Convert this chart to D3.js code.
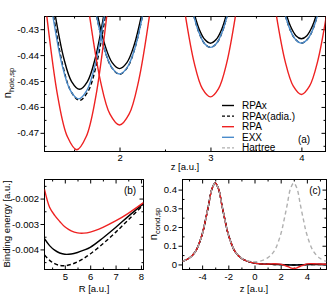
<!DOCTYPE html>
<html>
<head>
<meta charset="utf-8">
<script src="https://cdn.jsdelivr.net/npm/d3@7"></script>
<style>
body { margin: 0; background: #fff; }
svg { display: block; font-family: "Liberation Sans", Arial, sans-serif; }
</style>
</head>
<body>
<svg id="chart" width="328" height="303"></svg>
<script>
// ---- panel (a): n_hole,sp vs z, one array of [z, n] points per well ----
var rpax_a = [
  [[1.271,-0.420],[1.387,-0.4412],[1.473,-0.4502],[1.56,-0.4532],[1.647,-0.4502],[1.733,-0.4412],[1.849,-0.420]],
  [[1.731,-0.420],[1.839,-0.4361],[1.919,-0.4429],[2.0,-0.4452],[2.081,-0.4429],[2.161,-0.4361],[2.269,-0.420]],
  [[2.792,-0.420],[2.875,-0.4299],[2.938,-0.4340],[3.0,-0.4354],[3.062,-0.4340],[3.125,-0.4299],[3.208,-0.420]],
  [[3.799,-0.420],[3.879,-0.4288],[3.94,-0.4325],[4.0,-0.4337],[4.06,-0.4325],[4.121,-0.4288],[4.201,-0.420]]
];
var adia_a = [
  [[1.253,-0.420],[1.376,-0.4440],[1.468,-0.4541],[1.56,-0.4575],[1.652,-0.4541],[1.744,-0.4440],[1.867,-0.420]],
  [[1.72,-0.420],[1.832,-0.4375],[1.916,-0.4449],[2.0,-0.4474],[2.084,-0.4449],[2.168,-0.4375],[2.28,-0.420]],
  [[2.781,-0.420],[2.869,-0.4309],[2.934,-0.4355],[3.0,-0.4370],[3.066,-0.4355],[3.131,-0.4309],[3.219,-0.420]],
  [[3.787,-0.420],[3.872,-0.4299],[3.936,-0.4340],[4.0,-0.4354],[4.064,-0.4340],[4.128,-0.4299],[4.213,-0.420]]
];
var rpa_a = [
  [[1.184,-0.420],[1.322,-0.4562],[1.426,-0.4714],[1.53,-0.4765],[1.634,-0.4714],[1.738,-0.4562],[1.876,-0.420]],
  [[1.651,-0.420],[1.791,-0.4501],[1.895,-0.4628],[2.0,-0.4670],[2.105,-0.4628],[2.209,-0.4501],[2.349,-0.420]],
  [[2.703,-0.420],[2.822,-0.4431],[2.911,-0.4529],[3.0,-0.4561],[3.089,-0.4529],[3.178,-0.4431],[3.297,-0.420]],
  [[3.703,-0.420],[3.822,-0.4425],[3.911,-0.4520],[4.0,-0.4552],[4.089,-0.4520],[4.178,-0.4425],[4.297,-0.420]]
];
var exx_a = [
  [[1.245,-0.420],[1.367,-0.4436],[1.459,-0.4536],[1.55,-0.4569],[1.641,-0.4536],[1.733,-0.4436],[1.855,-0.420]],
  [[1.72,-0.420],[1.832,-0.4375],[1.916,-0.4448],[2.0,-0.4473],[2.084,-0.4448],[2.168,-0.4375],[2.28,-0.420]],
  [[2.781,-0.420],[2.869,-0.4309],[2.934,-0.4355],[3.0,-0.4370],[3.066,-0.4355],[3.131,-0.4309],[3.219,-0.420]],
  [[3.787,-0.420],[3.872,-0.4299],[3.936,-0.4340],[4.0,-0.4354],[4.064,-0.4340],[4.128,-0.4299],[4.213,-0.420]]
];

// ---- panel (b): binding energy vs R ----
var R_b = [4.2, 4.4, 4.6, 4.8, 5.0, 5.25, 5.5, 5.75, 6.0, 6.5, 7.0, 7.5, 8.1];
var rpax_b = [-0.00358,-0.00385,-0.00403,-0.00414,-0.00419,-0.00418,-0.00412,-0.00403,-0.00392,-0.00355,-0.00314,-0.00270,-0.00220];
var adia_b = [-0.00422,-0.00443,-0.00456,-0.00463,-0.00464,-0.00459,-0.00449,-0.00435,-0.00418,-0.00378,-0.00333,-0.00284,-0.00224];
var rpa_b  = [-0.00164,-0.00234,-0.00266,-0.00290,-0.00311,-0.00327,-0.00335,-0.00336,-0.00332,-0.00313,-0.00288,-0.00258,-0.00216];

// ---- panel (c): n_cond,sp vs z ----
var z_c = [-5.5,-5,-4.5,-4,-3.75,-3.5,-3.25,-3,-2.75,-2.5,-2.25,-2,-1.5,-1,-0.5,0,0.5,1,1.5,2,2.25,2.5,2.75,3,3.25,3.5,3.75,4,4.5,5,5.5];
var hartree_c = [0.016,0.033,0.07,0.16,0.235,0.32,0.405,0.435,0.405,0.32,0.235,0.16,0.071,0.035,0.019,0.014,0.019,0.035,0.071,0.16,0.235,0.32,0.405,0.435,0.405,0.32,0.235,0.16,0.07,0.033,0.016];
var rpax_c = [0.016,0.033,0.07,0.16,0.235,0.32,0.405,0.435,0.405,0.32,0.235,0.16,0.07,0.033,0.016,0.007,0.003,0.001,0,-0.001,-0.002,-0.002,-0.003,-0.003,-0.003,-0.002,-0.002,-0.001,0,0,0];
var adia_c = [0.016,0.033,0.07,0.16,0.235,0.32,0.405,0.435,0.405,0.32,0.235,0.16,0.07,0.033,0.016,0.007,0.003,0.001,0,-0.001,-0.001,-0.002,-0.002,-0.003,-0.002,-0.002,-0.001,-0.001,0,0,0];
var exx_c  = [0.016,0.033,0.07,0.16,0.235,0.32,0.405,0.435,0.405,0.32,0.235,0.16,0.07,0.033,0.016,0.007,0.003,0.002,0.001,0,-0.001,-0.001,-0.002,-0.002,-0.002,-0.001,-0.001,0,0.001,0.001,0];
var rpa_c  = [0.016,0.033,0.07,0.16,0.235,0.32,0.405,0.435,0.405,0.32,0.235,0.16,0.07,0.033,0.016,0.007,0.003,0.002,0.004,0.002,-0.004,-0.010,-0.018,-0.022,-0.018,-0.010,-0.004,0.003,0.004,0.002,0.001];

// ticks
var aXTicks = [2, 3, 4], aXMinor = [1.5, 2.5, 3.5];
var aYTicks = [-0.47, -0.46, -0.45, -0.44, -0.43], aYMinor = [-0.475, -0.465, -0.455, -0.445, -0.435];
var bXTicks = [5, 6, 7, 8], bXMinor = [4.5, 5.5, 6.5, 7.5];
var bYTicks = [-0.004, -0.003, -0.002], bYMinor = [-0.0045, -0.0035, -0.0025, -0.0015];
var cXTicks = [-4, -2, 0, 2, 4], cXMinor = [-5, -3, -1, 1, 3, 5];
var cYTicks = [0, 0.1, 0.2, 0.3, 0.4], cYMinor = [0.05, 0.15, 0.25, 0.35];

var legendNames = ["RPAx", "RPAx(adia.)", "RPA", "EXX", "Hartree"];

var BLACK = "#000", RED = "#ee2222", BLUE = "#4a8bcb", GRAY = "#b0b0b0";
var styles = {
  rpax: {color: BLACK, dash: null},
  adia: {color: BLACK, dash: "4,2.5"},
  rpa: {color: RED, dash: null},
  exx: {color: BLUE, dash: null},
  hartree: {color: GRAY, dash: "4,3"}
};
var legendKeys = ["rpax", "adia", "rpa", "exx", "hartree"];

var svg = d3.select("#chart");
svg.append("rect").attr("width", 328).attr("height", 303).attr("fill", "white");

var FS = 9.5;

// scales
var xa = d3.scaleLinear().domain([1.175, 4.265]).range([44.5, 325.5]);
var ya = d3.scaleLinear().domain([-0.4772, -0.4251]).range([151.5, 16.5]);
var xb = d3.scaleLinear().domain([4.2, 8.1]).range([44.5, 143.5]);
var yb = d3.scaleLinear().domain([-0.00479, -0.00125]).range([269.5, 179.5]);
var xc = d3.scaleLinear().domain([-5.5, 5.5]).range([182.5, 326.5]);
var yc = d3.scaleLinear().domain([-0.027, 0.454]).range([269.5, 179.5]);

function frame(id, xs, ys, p) {
  var g = svg.append("g");
  var x0 = xs.range()[0], x1 = xs.range()[1], y0 = ys.range()[0], y1 = ys.range()[1];

  // bottom: labelled major ticks inward
  g.append("g").attr("transform", "translate(0," + y0 + ")")
    .call(d3.axisBottom(xs).tickValues(p.xt).tickFormat(p.xf).tickSizeInner(-4).tickSizeOuter(0).tickPadding(p.xpad));
  g.append("g").attr("transform", "translate(0," + y0 + ")")
    .call(d3.axisBottom(xs).tickValues(p.xm).tickFormat("").tickSizeInner(-2).tickSizeOuter(0));
  // top mirror
  g.append("g").attr("transform", "translate(0," + y1 + ")")
    .call(d3.axisTop(xs).tickValues(p.xt).tickFormat("").tickSizeInner(-4).tickSizeOuter(0));
  g.append("g").attr("transform", "translate(0," + y1 + ")")
    .call(d3.axisTop(xs).tickValues(p.xm).tickFormat("").tickSizeInner(-2).tickSizeOuter(0));
  // left: major outward, minor inward
  g.append("g").attr("transform", "translate(" + x0 + ",0)")
    .call(d3.axisLeft(ys).tickValues(p.yt).tickFormat(p.yf).tickSizeInner(4).tickSizeOuter(0).tickPadding(1.5));
  g.append("g").attr("transform", "translate(" + x0 + ",0)")
    .call(d3.axisLeft(ys).tickValues(p.ym).tickFormat("").tickSizeInner(-2).tickSizeOuter(0));
  // right mirror, inward
  g.append("g").attr("transform", "translate(" + x1 + ",0)")
    .call(d3.axisRight(ys).tickValues(p.yt).tickFormat("").tickSizeInner(-4).tickSizeOuter(0));
  g.append("g").attr("transform", "translate(" + x1 + ",0)")
    .call(d3.axisRight(ys).tickValues(p.ym).tickFormat("").tickSizeInner(-2).tickSizeOuter(0));

  g.selectAll(".domain").remove();
  g.selectAll("g").attr("font-family", null).attr("font-size", FS);
  g.selectAll("text").attr("fill", "#000");

  g.append("rect")
    .attr("x", x0).attr("y", y1).attr("width", x1 - x0).attr("height", y0 - y1)
    .attr("fill", "none").attr("stroke", "#000").attr("stroke-width", 1);

  svg.append("clipPath").attr("id", id)
    .append("rect").attr("x", x0).attr("y", y1).attr("width", x1 - x0).attr("height", y0 - y1);
  return g;
}

frame("clipA", xa, ya, {xt: aXTicks, xm: aXMinor, yt: aYTicks, ym: aYMinor, xpad: 3,
  xf: d => String(d), yf: d => d.toFixed(2)});
frame("clipB", xb, yb, {xt: bXTicks, xm: bXMinor, yt: bYTicks, ym: bYMinor, xpad: 4,
  xf: d => String(d), yf: d => d.toFixed(3)});
frame("clipC", xc, yc, {xt: cXTicks, xm: cXMinor, yt: cYTicks, ym: cYMinor, xpad: 4,
  xf: d => String(d), yf: d => String(d)});

function drawCurve(clip, pts, xs, ys, key) {
  var st = styles[key];
  var line = d3.line().x(d => xs(d[0])).y(d => ys(d[1])).curve(d3.curveCatmullRom);
  svg.append("path")
    .attr("clip-path", "url(#" + clip + ")")
    .attr("d", line(pts))
    .attr("fill", "none")
    .attr("stroke", st.color)
    .attr("stroke-width", 1.4)
    .attr("stroke-dasharray", st.dash);
}

// panel (a)
rpax_a.forEach(w => drawCurve("clipA", w, xa, ya, "rpax"));
adia_a.forEach(w => drawCurve("clipA", w, xa, ya, "adia"));
exx_a.forEach(w => drawCurve("clipA", w, xa, ya, "exx"));
rpa_a.forEach(w => drawCurve("clipA", w, xa, ya, "rpa"));

// panel (b)
drawCurve("clipB", d3.zip(R_b, rpax_b), xb, yb, "rpax");
drawCurve("clipB", d3.zip(R_b, adia_b), xb, yb, "adia");
drawCurve("clipB", d3.zip(R_b, rpa_b), xb, yb, "rpa");

// panel (c)
drawCurve("clipC", d3.zip(z_c, exx_c), xc, yc, "exx");
drawCurve("clipC", d3.zip(z_c, rpax_c), xc, yc, "rpax");
drawCurve("clipC", d3.zip(z_c, adia_c), xc, yc, "adia");
drawCurve("clipC", d3.zip(z_c, rpa_c), xc, yc, "rpa");
drawCurve("clipC", d3.zip(z_c, hartree_c), xc, yc, "hartree");

// legend
var leg = svg.append("g").attr("font-size", 10);
legendKeys.forEach(function(k, i) {
  var y = 105.5 + i * 10.6;
  leg.append("line").attr("x1", 222).attr("x2", 234).attr("y1", y).attr("y2", y)
    .attr("stroke", styles[k].color).attr("stroke-width", 1.4).attr("stroke-dasharray", styles[k].dash ? "3,2" : null);
  leg.append("text").attr("x", 242).attr("y", y).attr("dy", "0.35em").text(legendNames[i]);
});

// panel tags
svg.append("text").attr("x", 304).attr("y", 142.5).attr("text-anchor", "middle").attr("font-size", 10).text("(a)");
svg.append("text").attr("x", 130).attr("y", 194).attr("text-anchor", "middle").attr("font-size", 10).text("(b)");
svg.append("text").attr("x", 315).attr("y", 194).attr("text-anchor", "middle").attr("font-size", 10).text("(c)");

// axis titles
svg.append("text").attr("x", 185).attr("y", 170).attr("text-anchor", "middle").attr("font-size", FS).text("z [a.u.]");
svg.append("text").attr("x", 94).attr("y", 292).attr("text-anchor", "middle").attr("font-size", FS).text("R [a.u.]");
svg.append("text").attr("x", 254).attr("y", 292).attr("text-anchor", "middle").attr("font-size", FS).text("z [a.u.]");

svg.append("text").attr("transform", "translate(10,224) rotate(-90)")
  .attr("text-anchor", "middle").attr("font-size", FS).text("Binding energy [a.u.]");

function subLabel(x, y, main, sub) {
  var t = svg.append("text").attr("transform", "translate(" + x + "," + y + ") rotate(-90)")
    .attr("text-anchor", "middle").attr("font-size", 11);
  t.append("tspan").text(main);
  t.append("tspan").attr("font-size", 7.5).attr("dy", 3).text(sub);
}
subLabel(10.5, 83, "n", "hole,sp");
subLabel(157, 224, "n", "cond,sp");
</script>
</body>
</html>
